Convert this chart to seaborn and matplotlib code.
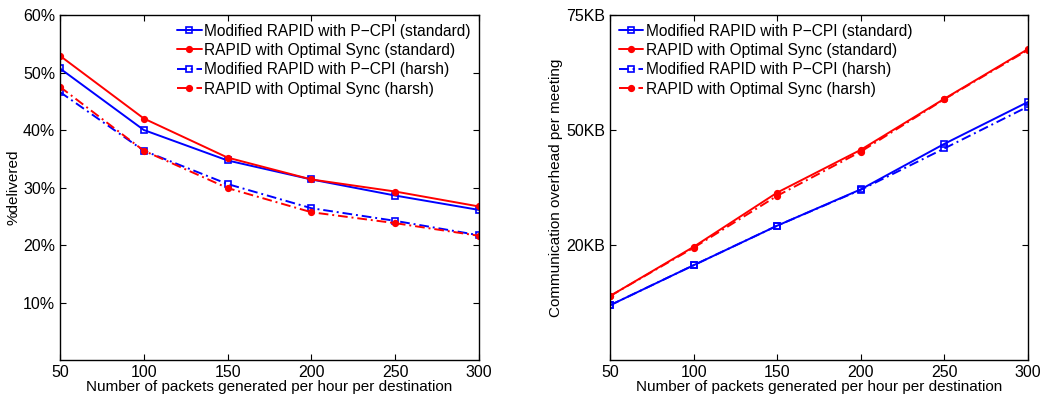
import numpy as np
import pandas as pd
import matplotlib
matplotlib.use("Agg")
import matplotlib.pyplot as plt
import seaborn as sns

sns.set_style("ticks")
plt.rcParams['font.family'] = ['Liberation Sans', 'DejaVu Sans']
plt.rcParams['font.size'] = 11
plt.rcParams['text.color'] = 'black'
plt.rcParams['axes.labelcolor'] = 'black'
plt.rcParams['xtick.color'] = 'black'
plt.rcParams['ytick.color'] = 'black'
plt.rcParams['axes.edgecolor'] = 'black'

# Donnees
packets = [50, 100, 150, 200, 250, 300]
series_names = [
    'Modified RAPID with P\u2212CPI (standard)',
    'RAPID with Optimal Sync (standard)',
    'Modified RAPID with P\u2212CPI (harsh)',
    'RAPID with Optimal Sync (harsh)',
]

# % delivered
delivered_pcpi_std = [50.7, 40.0, 34.7, 31.4, 28.6, 26.1]
delivered_rapid_std = [52.9, 42.0, 35.2, 31.4, 29.3, 26.7]
delivered_pcpi_harsh = [46.6, 36.4, 30.6, 26.4, 24.2, 21.7]
delivered_rapid_harsh = [47.5, 36.4, 29.9, 25.7, 23.8, 21.6]

# overhead per meeting (KB)
overhead_pcpi_std = [11.9, 20.6, 29.2, 37.1, 47.0, 56.1]
overhead_rapid_std = [13.9, 24.6, 36.4, 45.7, 56.8, 67.6]
overhead_pcpi_harsh = [11.9, 20.6, 29.2, 37.0, 46.0, 55.1]
overhead_rapid_harsh = [13.9, 24.4, 35.7, 45.3, 56.7, 67.4]

delivered_ticks = [10, 20, 30, 40, 50, 60]
delivered_labels = ['10%', '20%', '30%', '40%', '50%', '60%']
overhead_ticks = [25, 50, 75]
overhead_labels = ['20KB', '50KB', '75KB']

styles = [
    dict(color='#0000ff', linestyle='-', marker='s', markerfacecolor='none', markersize=5),
    dict(color='#ff0000', linestyle='-', marker='o', markersize=4),
    dict(color='#0000ff', linestyle=(0, (5, 2, 1, 2)), marker='s', markerfacecolor='none', markersize=5),
    dict(color='#ff0000', linestyle=(0, (5, 2, 1, 2)), marker='o', markersize=4),
]


def draw_panel(ax, values, yticks, ylabels, ylim, ylabel, legend_loc):
    for name, vals, st in zip(series_names, values, styles):
        sns.lineplot(x=packets, y=vals, ax=ax, label=name, linewidth=1.4,
                     markeredgewidth=1.2, markeredgecolor=st['color'], **st)
    ax.set_xlim(50, 300)
    ax.set_ylim(*ylim)
    ax.set_xticks(packets)
    ax.set_yticks(yticks)
    ax.set_yticklabels(ylabels)
    ax.set_xlabel('Number of packets generated per hour per destination', labelpad=0, fontsize=11)
    ax.set_ylabel(ylabel, labelpad=2, fontsize=11)
    ax.tick_params(direction='in', top=True, right=True, length=4, labelsize=11.5)
    for sp in ax.spines.values():
        sp.set_visible(True)
        sp.set_linewidth(1.0)
    ax.legend(loc=legend_loc, frameon=False, fontsize=11.2,
              handlelength=1.6, borderaxespad=0.15, labelspacing=0.28,
              handletextpad=0.15)


fig = plt.figure(figsize=(10.44, 3.97), dpi=100)
ax1 = fig.add_axes([0.0575, 0.0932, 0.4013, 0.8690])
ax2 = fig.add_axes([0.5843, 0.0932, 0.4004, 0.8690])

draw_panel(ax1, [delivered_pcpi_std, delivered_rapid_std, delivered_pcpi_harsh, delivered_rapid_harsh],
           delivered_ticks, delivered_labels, (0, 60), '%delivered', 'upper right')
draw_panel(ax2, [overhead_pcpi_std, overhead_rapid_std, overhead_pcpi_harsh, overhead_rapid_harsh],
           overhead_ticks, overhead_labels, (0, 75), 'Communication overhead per meeting', 'upper left')

fig.savefig('out.png', dpi=100)
